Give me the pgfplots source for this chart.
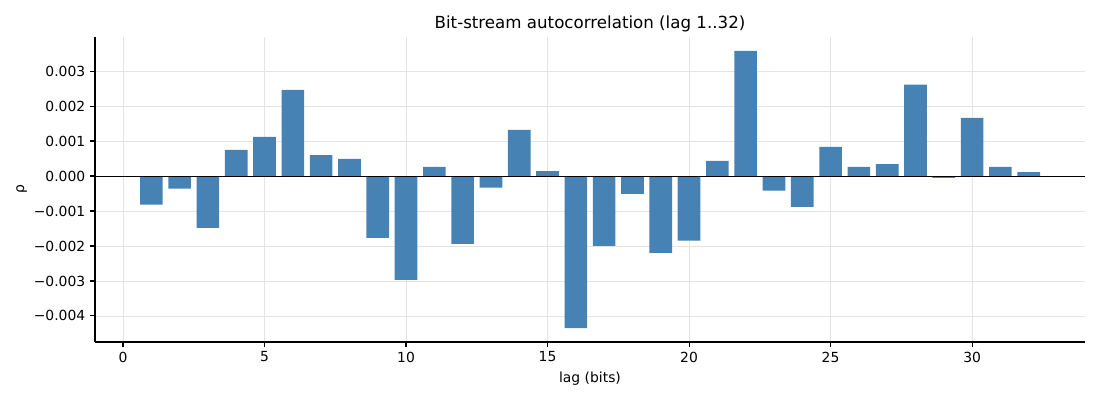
\documentclass[border=0pt]{standalone}
\usepackage{fontspec}
\setmainfont{DejaVu Sans}
\usepackage{pgfplots}
\pgfplotsset{compat=1.18}
\definecolor{barblue}{HTML}{4682B4}
\definecolor{gridgray}{HTML}{E3E3E3}
\begin{document}
\begin{tikzpicture}
\useasboundingbox (-68.4pt,-41.76pt) rectangle (723.6pt,246.24pt);
\begin{axis}[
  scale only axis,
  width=712.8pt, height=219.6pt,
  xmin=-0.99, xmax=33.99,
  ymin=-0.004745, ymax=0.003975,
  axis lines*=left,
  axis line style={line width=0.8pt},
  xtick={0,5,10,15,20,25,30},
  ytick={-0.004,-0.003,-0.002,-0.001,0,0.001,0.002,0.003},
  yticklabels={−0.004,−0.003,−0.002,−0.001,0.000,0.001,0.002,0.003},
  scaled y ticks=false,
  /pgf/number format/assume math mode=true,
  tick align=outside,
  major tick length=3.5pt,
  tick style={black, line width=0.8pt},
  grid=major,
  grid style={gridgray, line width=0.6pt},
  ticklabel style={font=\fontsize{10}{12}\selectfont},
  title={Bit-stream autocorrelation (lag 1..32)},
  title style={font=\fontsize{12}{14}\selectfont, yshift=-6pt},
  xlabel={lag (bits)},
  ylabel={ρ},
  label style={font=\fontsize{10}{12}\selectfont},
  ylabel style={yshift=-2pt},
  xlabel style={yshift=0pt},
  clip=false,
]
\addplot[ybar, bar width=0.8, fill=barblue, draw=none] coordinates {
(1,-0.00082) (2,-0.00036) (3,-0.00148) (4,0.000745) (5,0.00112) (6,0.00246)
(7,0.00060) (8,0.00049) (9,-0.00177) (10,-0.00297) (11,0.00026) (12,-0.00194)
(13,-0.00033) (14,0.00132) (15,0.00014) (16,-0.00435) (17,-0.00200) (18,-0.00051)
(19,-0.00220) (20,-0.00185) (21,0.00043) (22,0.00358) (23,-0.00042) (24,-0.00088)
(25,0.00083) (26,0.00026) (27,0.00034) (28,0.00261) (29,-0.00005) (30,0.00166)
(31,0.00026) (32,0.00011)
};
\draw[black, line width=0.6pt] (axis cs:-0.99,0) -- (axis cs:33.99,0);
\end{axis}
\end{tikzpicture}
\end{document}
